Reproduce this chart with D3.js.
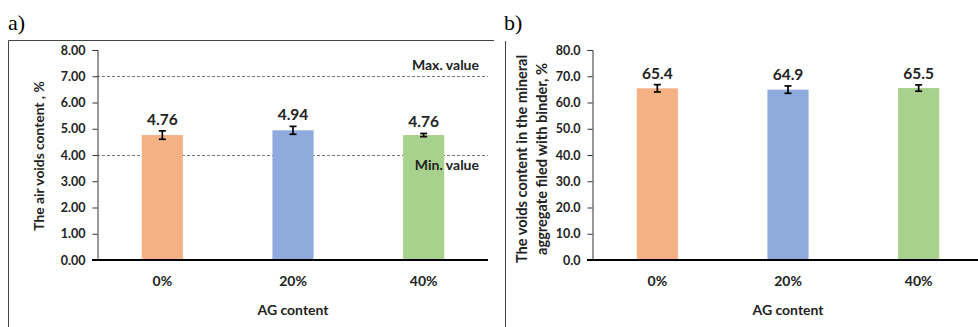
<!DOCTYPE html>
<html>
<head>
<meta charset="utf-8">
<title>AG content</title>
<script src="https://d3js.org/d3.v7.min.js"></script>
<style>
body { margin: 0; background: #fff; }
text { font-family: Lato, "Open Sans", sans-serif; }
</style>
</head>
<body>
<div id="chart"></div>
<script>
var categories = ["0%", "20%", "40%"];
var colors = ["#F4B183", "#8FAADC", "#A9D18E"];

// panel a
var airVoids = [4.76, 4.94, 4.76];
var airVoidsErr = [0.16, 0.15, 0.06];
var airTicks = [0, 1, 2, 3, 4, 5, 6, 7, 8];
var limits = [{value: 7, label: "Max. value"}, {value: 4, label: "Min. value"}];

// panel b
var vfb = [65.4, 64.9, 65.5];
var vfbErr = [1.4, 1.4, 1.2];
var vfbTicks = [0, 10, 20, 30, 40, 50, 60, 70, 80];

var width = 978, height = 327;
var svg = d3.select("#chart").append("svg").attr("width", width).attr("height", height);

// frames
svg.append("path").attr("d", "M8.5,327V40.5H494").attr("fill", "none").attr("stroke", "#444");
svg.append("line").attr("x1", 505.5).attr("x2", 505.5).attr("y1", 41).attr("y2", 327).attr("stroke", "#444");

svg.append("text").attr("x", 8).attr("y", 30)
	.style("font-family", "'Liberation Serif', serif").attr("font-size", 22).text("a)");
svg.append("text").attr("x", 504).attr("y", 30)
	.style("font-family", "'Liberation Serif', serif").attr("font-size", 22).text("b)");

function drawPanel(p) {
	var g = svg.append("g");
	var y = d3.scaleLinear().domain(p.domain).range([260, 50]);
	var x = d3.scaleBand().domain(categories).range([p.left, p.left + 392]).paddingInner(0.685).paddingOuter(0.3425);

	// limit lines
	(p.limits || []).forEach(function(l) {
		g.append("line").attr("x1", p.left).attr("x2", p.right)
			.attr("y1", Math.round(y(l.value)) + 0.5).attr("y2", Math.round(y(l.value)) + 0.5)
			.attr("stroke", "#555").attr("stroke-width", 0.8).attr("stroke-dasharray", "3,2");
	});

	g.selectAll(".bar").data(p.values).enter().append("rect")
		.attr("x", function(d, i) { return x(categories[i]); })
		.attr("width", x.bandwidth())
		.attr("y", function(d) { return y(d); })
		.attr("height", function(d) { return y(p.domain[0]) - y(d); })
		.attr("fill", function(d, i) { return colors[i]; });

	// limit labels on top of bars
	(p.limits || []).forEach(function(l) {
		g.append("text").attr("x", 479).attr("text-anchor", "end")
			.attr("y", l.value > 5 ? y(l.value) - 6 : y(l.value) + 15)
			.attr("font-size", 14).attr("font-weight", "bold").attr("fill", "#222").text(l.label);
	});

	// error bars
	var eb = g.selectAll(".err").data(p.values).enter().append("g")
		.attr("stroke", "#000").attr("stroke-width", 1.7);
	eb.append("line")
		.attr("x1", function(d, i) { return x(categories[i]) + x.bandwidth() / 2; })
		.attr("x2", function(d, i) { return x(categories[i]) + x.bandwidth() / 2; })
		.attr("y1", function(d, i) { return y(d + p.err[i]); })
		.attr("y2", function(d, i) { return y(d - p.err[i]); });
	[1, -1].forEach(function(s) {
		eb.append("line")
			.attr("x1", function(d, i) { return x(categories[i]) + x.bandwidth() / 2 - 3.5; })
			.attr("x2", function(d, i) { return x(categories[i]) + x.bandwidth() / 2 + 3.5; })
			.attr("y1", function(d, i) { return y(d + s * p.err[i]); })
			.attr("y2", function(d, i) { return y(d + s * p.err[i]); });
	});

	// value labels
	g.selectAll(".val").data(p.values).enter().append("text")
		.attr("x", function(d, i) { return x(categories[i]) + x.bandwidth() / 2; })
		.attr("y", function(d, i) { return y(d + p.err[i]) - 6; })
		.attr("text-anchor", "middle").attr("font-size", 15.5).attr("font-weight", "bold").attr("fill", "#222")
		.text(function(d) { return p.fmt(d); });

	// y axis
	var ya = g.append("g").attr("transform", "translate(" + (p.left + 0.5) + ",0)")
		.call(d3.axisLeft(y).tickValues(p.ticks).tickFormat(d3.format(p.tickFmt)).tickSize(5).tickPadding(7));
	ya.select(".domain").attr("stroke", "#333");
	ya.selectAll(".tick line").attr("stroke", "#333");
	ya.selectAll("text").attr("font-size", 12.5).attr("font-weight", "bold").attr("fill", "#222")
		.style("font-family", "Lato, sans-serif");

	// x axis line
	g.append("line").attr("x1", p.left - 5).attr("x2", p.right).attr("y1", 260).attr("y2", 260)
		.attr("stroke", "#000").attr("stroke-width", 2);

	g.selectAll(".cat").data(categories).enter().append("text")
		.attr("x", function(d) { return x(d) + x.bandwidth() / 2; })
		.attr("y", 286).attr("text-anchor", "middle").attr("font-size", 14).attr("font-weight", "bold").attr("fill", "#222")
		.text(function(d) { return d; });

	g.append("text").attr("x", x(categories[1]) + x.bandwidth() / 2).attr("y", 315)
		.attr("text-anchor", "middle").attr("font-size", 14).attr("font-weight", "bold").attr("fill", "#222")
		.text("AG content");

	p.title.forEach(function(t, i) {
		g.append("text").attr("transform", "translate(" + p.titleX[i] + "," + p.titleY + ") rotate(-90)")
			.attr("text-anchor", "middle").attr("font-size", p.titleSize).attr("font-weight", "bold").attr("fill", "#222")
			.text(t);
	});
}

drawPanel({
	left: 97, right: 488, domain: [0, 8], ticks: airTicks, tickFmt: ".2f",
	values: airVoids, err: airVoidsErr, fmt: d3.format(".2f"), limits: limits,
	title: ["The air voids content , %"], titleX: [44], titleY: 156, titleSize: 13.8
});

drawPanel({
	left: 592, right: 978, domain: [0, 80], ticks: vfbTicks, tickFmt: ".1f",
	values: vfb, err: vfbErr, fmt: d3.format(".1f"),
	title: ["The voids content in the mineral", "aggregate filed with binder, %"], titleX: [527, 547], titleY: 159, titleSize: 14.6
});
</script>
</body>
</html>
